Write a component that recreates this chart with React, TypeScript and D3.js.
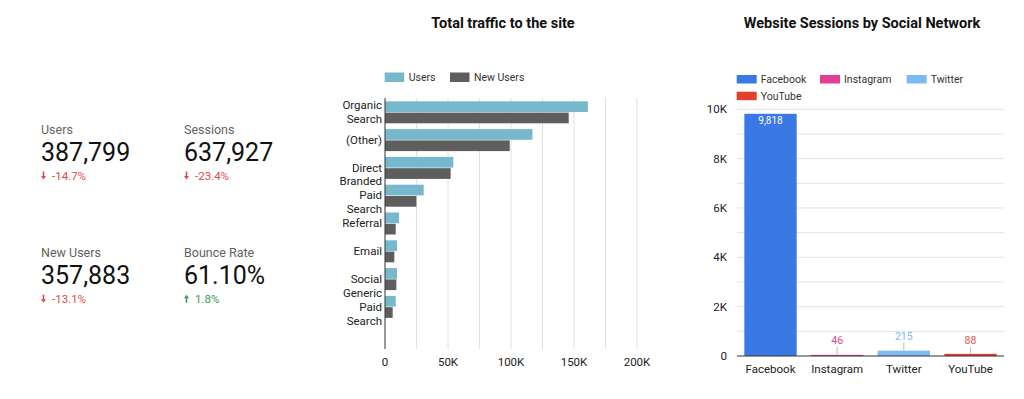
import React, { useRef, useEffect } from 'react';
import * as d3 from 'd3';

// KPI scorecards
const kpiLabels = ['Users', 'Sessions', 'New Users', 'Bounce Rate'];
const kpiValues = ['387,799', '637,927', '357,883', '61.10%'];
const kpiChanges = [-14.7, -23.4, -13.1, 1.8];

// Total traffic to the site
const channels = [
  ['Organic', 'Search'],
  ['(Other)'],
  ['Direct'],
  ['Branded', 'Paid', 'Search'],
  ['Referral'],
  ['Email'],
  ['Social'],
  ['Generic', 'Paid', 'Search'],
];
const trafficSeries = ['Users', 'New Users'];
const users = [161000, 117000, 54200, 30700, 11100, 9500, 9500, 8500];
const newUsers = [145800, 99000, 52100, 24900, 8500, 7400, 9000, 6100];
const trafficTicks = [0, 50000, 100000, 150000, 200000];

// Website Sessions by Social Network
const networks = ['Facebook', 'Instagram', 'Twitter', 'YouTube'];
const sessions = [9818, 46, 215, 88];
const sessionTicks = [0, 2000, 4000, 6000, 8000, 10000];

const FONT = 'Roboto, "Noto Sans", sans-serif';
const trafficColors = ['#76b8cc', '#5e5e5e'];
const netColors = ['#3a78e6', '#e33d94', '#7bbaf3', '#e2402f'];
const netTextColors = ['#ffffff', '#d9478f', '#7bbaf3', '#e06050'];

const App = () => {
  const ref = useRef<SVGSVGElement>(null);

  useEffect(() => {
    const svg = d3.select(ref.current);
    svg.selectAll('*').remove();
    svg.style('font-family', FONT);

    // ---- scorecards
    kpiLabels.forEach((label, i) => {
      const x = i % 2 === 0 ? 41 : 184;
      const y0 = i < 2 ? 0 : 123.3;
      const g = svg.append('g');
      g.append('text').attr('x', x).attr('y', 134 + y0)
        .attr('font-size', 12.5).attr('fill', '#616161').text(label);
      g.append('text').attr('x', x).attr('y', 161 + y0)
        .attr('font-size', 25).attr('fill', '#111').text(kpiValues[i]);
      const up = kpiChanges[i] > 0;
      const col = up ? '#3e9b4f' : '#e0494a';
      const ay = 179.5 + y0;
      // small arrow
      const arrow = up
        ? `M${x + 2.5},${ay - 8} L${x + 5},${ay - 4.5} L${x + 3.3},${ay - 4.5} L${x + 3.3},${ay} L${x + 1.7},${ay} L${x + 1.7},${ay - 4.5} L${x},${ay - 4.5} Z`
        : `M${x + 2.5},${ay} L${x + 5},${ay - 3.5} L${x + 3.3},${ay - 3.5} L${x + 3.3},${ay - 8} L${x + 1.7},${ay - 8} L${x + 1.7},${ay - 3.5} L${x},${ay - 3.5} Z`;
      g.append('path').attr('d', arrow).attr('fill', col);
      g.append('text').attr('x', x + 11).attr('y', ay)
        .attr('font-size', 11.5).attr('fill', col)
        .text(kpiChanges[i].toFixed(1) + '%');
    });

    // ---- traffic bar chart
    const tx = d3.scaleLinear().domain([0, 200000]).range([385, 637]);
    const step = 27.8;
    const top = 98;
    const bottom = 349;
    const ty = d3.scaleBand<number>()
      .domain(d3.range(channels.length))
      .range([top, top + step * channels.length]);
    const inner = d3.scaleBand<number>().domain([0, 1])
      .range([3.3, 25.3]).paddingInner(0.05);

    svg.append('text').attr('x', 503).attr('y', 27.7).attr('text-anchor', 'middle')
      .attr('font-size', 14.5).attr('font-weight', 'bold').attr('fill', '#111')
      .text('Total traffic to the site');

    const grid = svg.append('g');
    d3.range(25000, 200001, 25000).forEach(v => {
      grid.append('line').attr('x1', tx(v)).attr('x2', tx(v))
        .attr('y1', top).attr('y2', bottom)
        .attr('stroke', '#e0e0e0').attr('stroke-width', 1);
    });

    [users, newUsers].forEach((vals, s) => {
      svg.append('g').selectAll('rect').data(vals).join('rect')
        .attr('x', tx(0))
        .attr('y', (d, i) => (ty(i) as number) + (inner(s) as number))
        .attr('width', d => tx(d) - tx(0))
        .attr('height', inner.bandwidth())
        .attr('fill', trafficColors[s]);
    });

    svg.append('line').attr('x1', tx(0)).attr('x2', tx(0))
      .attr('y1', top).attr('y2', bottom).attr('stroke', '#333');

    const ylab = svg.append('g');
    channels.forEach((lines, i) => {
      const c = (ty(i) as number) + ty.bandwidth() / 2;
      const t = ylab.append('text').attr('text-anchor', 'end')
        .attr('font-size', 11.5).attr('fill', '#222');
      lines.forEach((ln, j) => {
        t.append('tspan').attr('x', 382)
          .attr('y', c + (j - (lines.length - 1) / 2) * 14 + 4).text(ln);
      });
    });

    svg.append('g').selectAll('text').data(trafficTicks).join('text')
      .attr('x', d => tx(d)).attr('y', 366).attr('text-anchor', 'middle')
      .attr('font-size', 11.5).attr('fill', '#222')
      .text(d => (d === 0 ? '0' : d / 1000 + 'K'));

    const tl = svg.append('g');
    const tlx = [384.7, 450];
    trafficSeries.forEach((name, i) => {
      tl.append('rect').attr('x', tlx[i]).attr('y', 72.5).attr('width', 19.5)
        .attr('height', 9.5).attr('fill', trafficColors[i]);
      tl.append('text').attr('x', tlx[i] + 24).attr('y', 81.3)
        .attr('font-size', 10.5).attr('fill', '#333').text(name);
    });

    // ---- social sessions chart
    const sx = d3.scaleBand<string>().domain(networks).range([737, 1004])
      .paddingInner(0.215).paddingOuter(0.11);
    const sy = d3.scaleLinear().domain([0, 10000]).range([356, 109.3]);

    svg.append('text').attr('x', 862).attr('y', 27.7).attr('text-anchor', 'middle')
      .attr('font-size', 14.5).attr('font-weight', 'bold').attr('fill', '#111')
      .text('Website Sessions by Social Network');

    const sg = svg.append('g');
    d3.range(1000, 10001, 1000).forEach(v => {
      sg.append('line').attr('x1', 737).attr('x2', 1004)
        .attr('y1', sy(v)).attr('y2', sy(v))
        .attr('stroke', '#e3e3e3');
    });
    sg.selectAll('text').data(sessionTicks).join('text')
      .attr('x', 727).attr('y', d => sy(d) + 4).attr('text-anchor', 'end')
      .attr('font-size', 11.5).attr('fill', '#222')
      .text(d => (d === 0 ? '0' : d / 1000 + 'K'));

    svg.append('g').selectAll('rect').data(sessions).join('rect')
      .attr('x', (d, i) => sx(networks[i]) as number)
      .attr('y', d => sy(d))
      .attr('width', sx.bandwidth())
      .attr('height', d => sy(0) - sy(d))
      .attr('fill', (d, i) => netColors[i]);

    svg.append('line').attr('x1', 737).attr('x2', 1004)
      .attr('y1', sy(0)).attr('y2', sy(0)).attr('stroke', '#333');

    const vl = svg.append('g');
    sessions.forEach((v, i) => {
      const cx = (sx(networks[i]) as number) + sx.bandwidth() / 2;
      if (v > 2000) {
        vl.append('text').attr('x', cx).attr('y', sy(v) + 10).attr('text-anchor', 'middle')
          .attr('font-size', 10).attr('fill', netTextColors[i]).text(d3.format(',')(v));
      } else {
        const ty0 = v > 150 ? 339.5 : 344;
        vl.append('line').attr('x1', cx).attr('x2', cx)
          .attr('y1', ty0 + 3).attr('y2', sy(v))
          .attr('stroke', '#bdbdbd');
        vl.append('text').attr('x', cx).attr('y', ty0).attr('text-anchor', 'middle')
          .attr('font-size', 10.5).attr('fill', netTextColors[i]).text(d3.format(',')(v));
      }
    });

    svg.append('g').selectAll('text').data(networks).join('text')
      .attr('x', d => (sx(d) as number) + sx.bandwidth() / 2).attr('y', 373)
      .attr('text-anchor', 'middle').attr('font-size', 11.5).attr('fill', '#222')
      .text(d => d);

    const sl = svg.append('g');
    const slPos = [[736.7, 75], [820, 75], [906.7, 75], [736.7, 91.7]];
    networks.forEach((name, i) => {
      sl.append('rect').attr('x', slPos[i][0]).attr('y', slPos[i][1]).attr('width', 20)
        .attr('height', 8.5).attr('fill', netColors[i]);
      sl.append('text').attr('x', slPos[i][0] + 24).attr('y', slPos[i][1] + 8)
        .attr('font-size', 10.5).attr('fill', '#333').text(name);
    });
  }, []);

  return (
    <svg ref={ref} width={1024} height={399}
      style={{ position: 'absolute', left: 0, top: 0, background: 'white' }} />
  );
};

export default App;
